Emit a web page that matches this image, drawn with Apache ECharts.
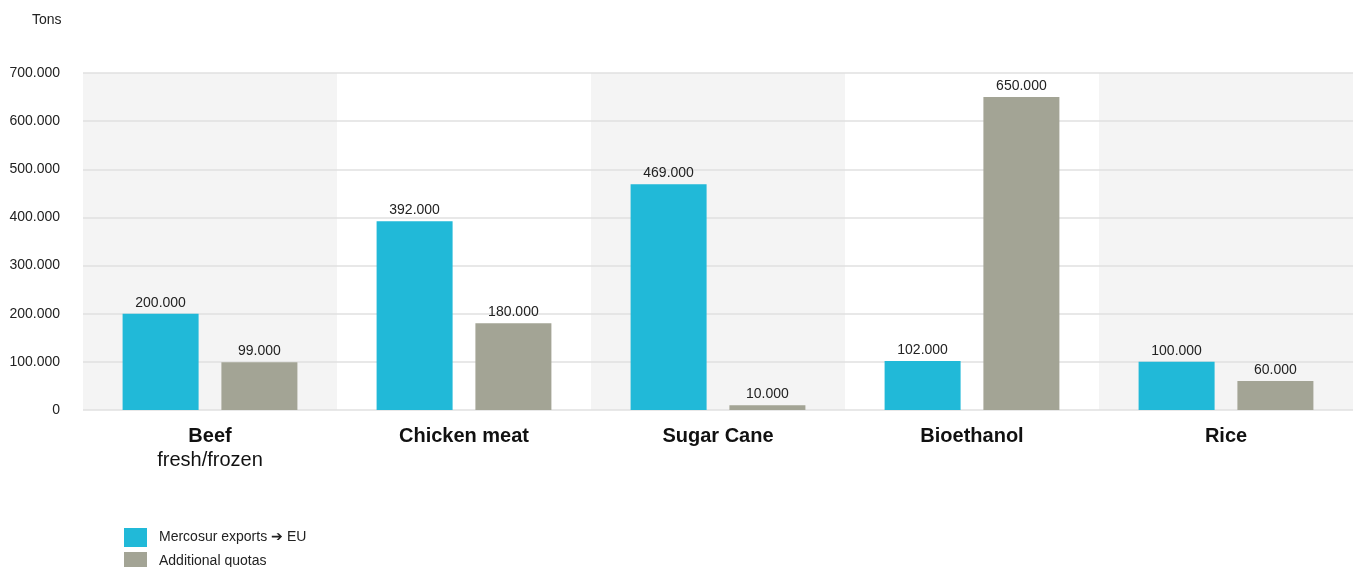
<!DOCTYPE html>
<html>
<head>
<meta charset="utf-8">
<script src="https://cdn.jsdelivr.net/npm/echarts@6/dist/echarts.min.js"></script>
<style>
html,body{margin:0;padding:0;background:#fff;}
#chart{width:1359px;height:567px;}
</style>
</head>
<body>
<div id="chart"></div>
<script>
const categories = ['Beef', 'Chicken meat', 'Sugar Cane', 'Bioethanol', 'Rice'];
const subtitles = ['fresh/frozen', '', '', '', ''];
const mercosurExports = [200000, 392000, 469000, 102000, 100000];
const additionalQuotas = [99000, 180000, 10000, 650000, 60000];
const seriesNames = ['Mercosur exports \u2794 EU', 'Additional quotas'];
const yTicks = [0, 100000, 200000, 300000, 400000, 500000, 600000, 700000];
const unitLabel = 'Tons';

function fmt(v) {
  return String(Math.round(v)).replace(/\B(?=(\d{3})+(?!\d))/g, '.');
}

const FONT = '"Liberation Sans", Arial, sans-serif';
const chart = echarts.init(document.getElementById('chart'), null, {renderer: 'canvas'});

const labelCfg = {
  show: true,
  position: 'top',
  distance: 4,
  fontFamily: FONT,
  fontSize: 14,
  color: '#222',
  formatter: p => fmt(p.value)
};

chart.setOption({
  animation: false,
  textStyle: {fontFamily: FONT},
  graphic: [{
    type: 'text',
    left: 32,
    top: 13,
    style: {text: unitLabel, fontFamily: FONT, fontSize: 14, fill: '#222'}
  }],
  legend: {
    orient: 'vertical',
    left: 124,
    top: 528,
    height: 80,
    padding: 0,
    itemWidth: 23,
    itemHeight: 19,
    itemGap: 5,
    icon: 'rect',
    textStyle: {fontFamily: FONT, fontSize: 14, color: '#222', padding: [0, 0, 0, 7]},
    data: seriesNames
  },
  grid: {left: 83, right: 6, top: 73, bottom: 157, containLabel: false},
  xAxis: {
    type: 'category',
    data: categories,
    z: 0,
    axisLine: {show: false},
    axisTick: {show: false},
    splitLine: {show: false},
    splitArea: {show: true, areaStyle: {color: ['#f4f4f4', '#ffffff']}},
    axisLabel: {
      margin: 14,
      interval: 0,
      formatter: (v, i) => subtitles[i] ? '{b|' + v + '}\n{n|' + subtitles[i] + '}' : '{b|' + v + '}',
      rich: {
        b: {fontFamily: FONT, fontSize: 20, fontWeight: 'bold', color: '#111', lineHeight: 24},
        n: {fontFamily: FONT, fontSize: 20, color: '#111', lineHeight: 24}
      }
    }
  },
  yAxis: {
    type: 'value',
    min: yTicks[0],
    max: yTicks[yTicks.length - 1],
    interval: yTicks[1] - yTicks[0],
    z: 1,
    axisLine: {show: false},
    axisTick: {show: false},
    splitLine: {show: true, lineStyle: {color: '#e0e0e0', width: 1.5}},
    axisLabel: {
      margin: 23,
      fontFamily: FONT,
      fontSize: 14,
      color: '#222',
      verticalAlign: 'middle',
      padding: [0, 0, 10, 0],
      formatter: v => fmt(v)
    }
  },
  series: [
    {
      name: seriesNames[0],
      type: 'bar',
      data: mercosurExports,
      barWidth: 76,
      barGap: '30%',
      itemStyle: {color: '#21b9d8'},
      label: labelCfg
    },
    {
      name: seriesNames[1],
      type: 'bar',
      data: additionalQuotas,
      barWidth: 76,
      barGap: '30%',
      itemStyle: {color: '#a3a495'},
      label: labelCfg
    }
  ]
});
</script>
</body>
</html>
